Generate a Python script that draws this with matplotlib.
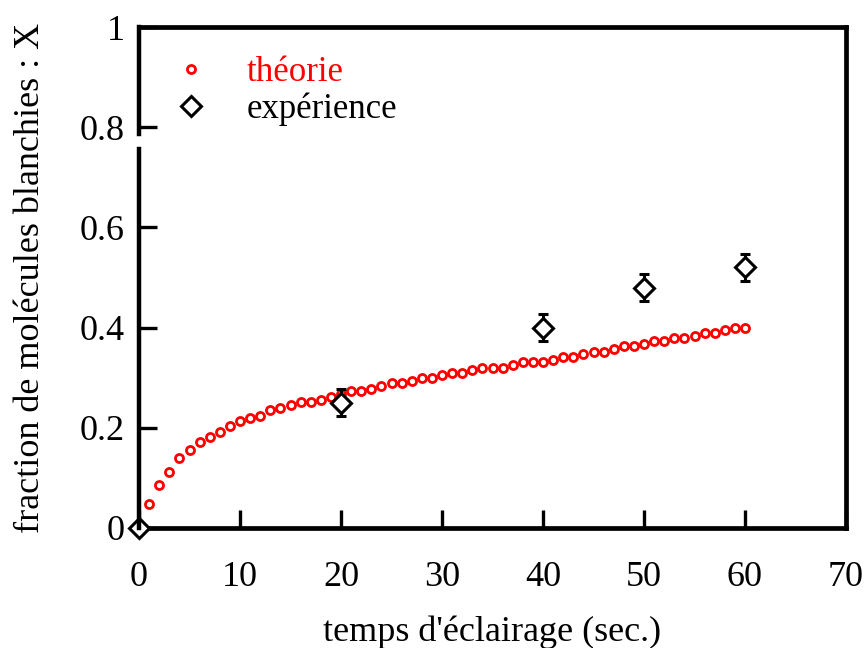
import numpy as np
import matplotlib
matplotlib.use("Agg")
import matplotlib.pyplot as plt
from matplotlib.lines import Line2D

# theoretical curve (one point per second)
t_theo = np.arange(1, 61)
x_theo = [0.048, 0.085, 0.111, 0.139, 0.155, 0.171, 0.181, 0.192, 0.203, 0.213,
          0.219, 0.224, 0.235, 0.240, 0.245, 0.251, 0.251, 0.256, 0.261, 0.267,
          0.273, 0.273, 0.278, 0.283, 0.289, 0.289, 0.294, 0.299, 0.299, 0.305,
          0.310, 0.310, 0.315, 0.320, 0.320, 0.320, 0.325, 0.331, 0.331, 0.331,
          0.336, 0.341, 0.341, 0.347, 0.352, 0.352, 0.357, 0.363, 0.363, 0.368,
          0.373, 0.373, 0.379, 0.379, 0.384, 0.389, 0.389, 0.395, 0.400, 0.400]

# measurements
t_exp = [0, 20, 40, 50, 60]
x_exp = [0.0, 0.25, 0.40, 0.48, 0.52]
err_exp = [0.0, 0.027, 0.027, 0.027, 0.027]

x_ticks = [0, 10, 20, 30, 40, 50, 60, 70]
y_ticks = [0, 0.2, 0.4, 0.6, 0.8, 1]
y_ticklabels = ["0", "0.2", "0.4", "0.6", "0.8", "1"]

plt.rcParams['font.family'] = 'Liberation Serif'
plt.rcParams['font.size'] = 26

fig = plt.figure(figsize=(8.65, 6.48), dpi=100)
ax = fig.add_axes([139 / 865, 1 - 528 / 648, 707 / 865, 501 / 648])

ax.plot(t_theo, x_theo, 'o', ls='none', mfc='white', mec='red', ms=5.8, mew=2,
        zorder=3)
ax.errorbar(t_exp, x_exp, yerr=err_exp, fmt='D', ms=10.5, mfc='white', mec='black',
            mew=2.2, ecolor='black', elinewidth=2.2, capsize=3.5, capthick=2.2,
            zorder=4, clip_on=False)

ax.set_xlim(0, 70)
ax.set_ylim(0, 1)
ax.set_xticks(x_ticks)
ax.set_yticks(y_ticks)
ax.set_yticklabels(y_ticklabels)
ax.tick_params(direction='in', length=13, width=2.4, top=False, right=False,
               labelsize=26)
ax.tick_params(axis='x', pad=24)
ax.tick_params(axis='y', pad=10)

for s in ['top', 'right', 'bottom']:
    ax.spines[s].set_linewidth(3.4)
ax.spines['left'].set_visible(False)
# left axis is drawn with a small break below 0.8
ax.plot([0, 0], [0, 0.756], color='black', lw=3.2, transform=ax.transAxes,
        clip_on=False, solid_capstyle='projecting', zorder=5)
ax.plot([0, 0], [0.786, 1], color='black', lw=3.2, transform=ax.transAxes,
        clip_on=False, solid_capstyle='projecting', zorder=5)

ax.set_xlabel("temps d'éclairage (sec.)", labelpad=15)
ax.set_ylabel("fraction de molécules blanchies : X", labelpad=24)

handles = [Line2D([], [], marker='o', ls='none', mfc='white', mec='red',
                  ms=5.8, mew=2),
           Line2D([], [], marker='D', ls='none', mfc='white', mec='black',
                  ms=10.5, mew=2.2)]
leg = ax.legend(handles, ['théorie', 'expérience'], loc='upper left',
                bbox_to_anchor=(0.0, 1.005), frameon=False,
                handletextpad=1.0, labelspacing=0.1, handlelength=1.2,
                fontsize=25)
leg.get_texts()[0].set_color('red')

fig.savefig('out.png', dpi=100)
